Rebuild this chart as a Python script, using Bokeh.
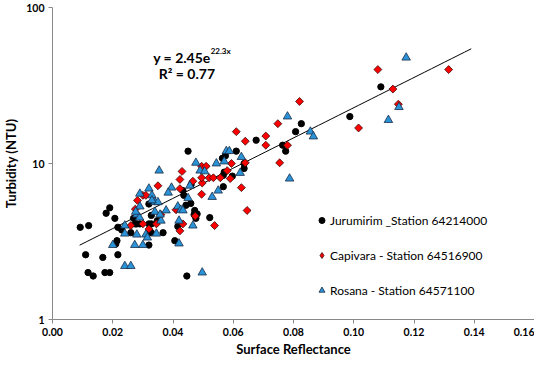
import numpy as np
from bokeh.plotting import figure
from bokeh.models import (Label, Legend, LegendItem, FixedTicker, PrintfTickFormatter, Range1d)
from bokeh.embed import file_html
from bokeh.resources import INLINE

# ---- data ----
jur_x = [0.0092, 0.012, 0.011, 0.0118, 0.0135, 0.0167, 0.0174, 0.019, 0.0178, 0.019,
         0.0207, 0.0217, 0.023, 0.0214, 0.021, 0.0217, 0.026, 0.0269, 0.0275, 0.028,
         0.032, 0.0328, 0.0328, 0.032, 0.032, 0.0328, 0.0367, 0.0406, 0.0436, 0.0443,
         0.0459, 0.0472, 0.047, 0.0476, 0.0446, 0.0433, 0.046, 0.0522, 0.0567, 0.057,
         0.0567, 0.0597, 0.0636, 0.0636, 0.0564, 0.0574, 0.061, 0.045, 0.0676, 0.0764,
         0.0774, 0.0807, 0.0826, 0.0987, 0.109, 0.0416, 0.048, 0.0348, 0.0324, 0.029]
jur_y = [3.9, 4.0, 2.6, 2.0, 1.9, 2.5, 2.0, 2.0, 4.8, 5.2,
         4.45, 3.9, 3.75, 3.2, 3.05, 2.6, 3.6, 4.45, 4.1, 4.1,
         4.1, 4.1, 3.6, 3.0, 5.5, 4.65, 3.6, 3.2, 6.25, 5.4,
         5.55, 5.0, 4.7, 4.45, 1.9, 6.7, 7.3, 4.5, 7.1, 8.8,
         8.4, 8.3, 10.0, 9.3, 10.8, 11.2, 12.0, 12.0, 14.1, 13.1,
         12.0, 16.0, 18.0, 20.0, 31.0, 3.95, 4.75, 4.3, 3.65, 4.1]

cap_x = [0.026, 0.0275, 0.0282, 0.030, 0.031, 0.030, 0.032, 0.0345, 0.035, 0.036,
         0.041, 0.0423, 0.0433, 0.0423, 0.0474, 0.0423, 0.043, 0.0497, 0.0495, 0.0495,
         0.052, 0.0534, 0.0557, 0.059, 0.058, 0.0495, 0.051, 0.0594, 0.064, 0.0627,
         0.0646, 0.0538, 0.061, 0.064, 0.0708, 0.0708, 0.0748, 0.078, 0.0754, 0.082,
         0.1016, 0.108, 0.113, 0.1148, 0.1315, 0.0466]
cap_y = [4.0, 5.1, 5.8, 6.25, 6.25, 4.1, 3.8, 4.1, 7.2, 4.7,
         5.05, 6.9, 4.1, 3.7, 4.6, 7.9, 8.9, 7.5, 6.35, 8.1,
         8.1, 8.1, 8.1, 8.0, 9.0, 9.6, 9.6, 10.0, 10.1, 7.0,
         5.0, 4.0, 16.0, 13.9, 15.0, 13.1, 18.0, 13.1, 10.1, 25.0,
         16.9, 40.0, 30.0, 24.0, 40.0, 7.7]

ros_x = [0.020, 0.024, 0.024, 0.024, 0.026, 0.0273, 0.030, 0.028, 0.031, 0.0345,
         0.028, 0.029, 0.029, 0.032, 0.033, 0.034, 0.035, 0.034, 0.036, 0.0377,
         0.0395, 0.0416, 0.0426, 0.042, 0.042, 0.045, 0.0456, 0.0466, 0.0497, 0.053,
         0.055, 0.0354, 0.0476, 0.049, 0.0505, 0.0544, 0.057, 0.0577, 0.0587, 0.0627,
         0.0623, 0.0787, 0.078, 0.0856, 0.0866, 0.1115, 0.115, 0.1174, 0.0289, 0.0276,
         0.0357, 0.0384, 0.033, 0.0315, 0.0433]
ros_y = [3.0, 4.0, 3.55, 2.2, 2.2, 3.0, 3.0, 3.5, 3.5, 3.55,
         4.7, 5.3, 6.4, 6.9, 6.25, 5.65, 5.65, 4.9, 4.3, 5.0,
         7.0, 5.3, 5.05, 4.3, 3.07, 6.0, 7.2, 4.0, 2.0, 6.1,
         6.7, 9.0, 10.1, 9.0, 8.9, 10.0, 10.3, 12.0, 12.0, 11.0,
         8.7, 8.0, 20.0, 16.0, 14.9, 19.0, 23.0, 47.7, 4.5, 4.9,
         4.7, 6.5, 5.8, 3.35, 5.0]

trend_a = 2.45
trend_b = 22.3
trend_x_start, trend_x_end = 0.009, 0.139

x_ticks = [0.0, 0.02, 0.04, 0.06, 0.08, 0.10, 0.12, 0.14, 0.16]
y_ticks = [1, 10, 100]

FONT = "Lato"
AXIS_GRAY = "#898989"
RED = "#ff0000"
RED_EDGE = "#3a0a0a"
BLUE = "#2a92d6"
BLUE_EDGE = "#1b2d47"

p = figure(width=534, height=359, y_axis_type="log",
           x_range=Range1d(0, 0.16), y_range=Range1d(1, 100),
           output_backend="svg", toolbar_location=None,
           min_border_left=6, min_border_right=0, min_border_top=7, min_border_bottom=0)
p.grid.visible = False
p.outline_line_color = None
p.background_fill_color = "white"

# trendline
tx = np.linspace(trend_x_start, trend_x_end, 60)
ty = trend_a * np.exp(trend_b * tx)
p.line(tx, ty, line_color="black", line_width=1)

r1 = p.scatter(jur_x, jur_y, marker="circle", size=6.3, fill_color="black", line_color="black")
r2 = p.scatter(cap_x, cap_y, marker="square", angle=np.pi / 4, size=5.6,
               fill_color=RED, line_color=RED_EDGE, line_width=0.8)
r3 = p.scatter(ros_x, ros_y, marker="triangle", size=8.5,
               fill_color=BLUE, line_color=BLUE_EDGE, line_width=0.8)
# legend proxy for the diamond marker (legend glyphs ignore rotation); NaN -> not drawn in plot
r2_leg = p.scatter(np.array([np.nan]), np.array([np.nan]), marker="diamond", size=6,
                   fill_color=RED, line_color=RED_EDGE, line_width=0.8)

# axes
for ax in (p.xaxis[0], p.yaxis[0]):
    ax.axis_line_color = AXIS_GRAY
    ax.major_tick_line_color = AXIS_GRAY
    ax.major_tick_out = 4
    ax.major_tick_in = 0
    ax.minor_tick_line_color = None
    ax.major_label_text_font = FONT
    ax.major_label_text_font_style = "bold"
    ax.major_label_text_font_size = "10.5px"
    ax.major_label_text_color = "black"
    ax.axis_label_text_font = FONT
    ax.axis_label_text_font_style = "bold"
    ax.axis_label_text_font_size = "13px"
    ax.axis_label_text_color = "black"
    ax.major_label_standoff = 4
    ax.axis_label_standoff = 4
p.xaxis.axis_label_standoff = 2

p.xaxis.ticker = FixedTicker(ticks=x_ticks)
p.xaxis.formatter = PrintfTickFormatter(format="%.2f")
p.yaxis.ticker = FixedTicker(ticks=y_ticks)
p.yaxis.formatter = PrintfTickFormatter(format="%d")
p.xaxis.axis_label = "Surface Reflectance"
p.yaxis.axis_label = "Turbidity (NTU)"

# equation
p.add_layout(Label(x=0.0525, y=48, text="y = 2.45e", text_align="right",
                   text_baseline="alphabetic", text_font=FONT, text_font_style="bold",
                   text_font_size="14px", text_color="black"))
p.add_layout(Label(x=0.0525, y=48, y_offset=6, text="22.3x", text_align="left",
                   text_baseline="alphabetic", text_font=FONT, text_font_style="bold",
                   text_font_size="8px", text_color="black"))
p.add_layout(Label(x=0.0446, y=38, text="R² = 0.77", text_align="center",
                   text_baseline="middle", text_font=FONT, text_font_style="bold",
                   text_font_size="14px", text_color="black"))

legend = Legend(items=[
    LegendItem(label="Jurumirim _Station 64214000", renderers=[r1]),
    LegendItem(label="Capivara - Station 64516900", renderers=[r2_leg]),
    LegendItem(label="Rosana - Station 64571100", renderers=[r3]),
], location=(262, 19))
legend.border_line_color = None
legend.background_fill_alpha = 0
legend.padding = 0
legend.margin = 0
legend.spacing = 15
legend.glyph_width = 15
legend.glyph_height = 20
legend.label_height = 20
legend.label_standoff = 1
legend.label_text_font = FONT
legend.label_text_font_size = "12px"
legend.label_text_color = "black"
p.add_layout(legend)

open("out.html", "w").write(file_html(p, INLINE))
